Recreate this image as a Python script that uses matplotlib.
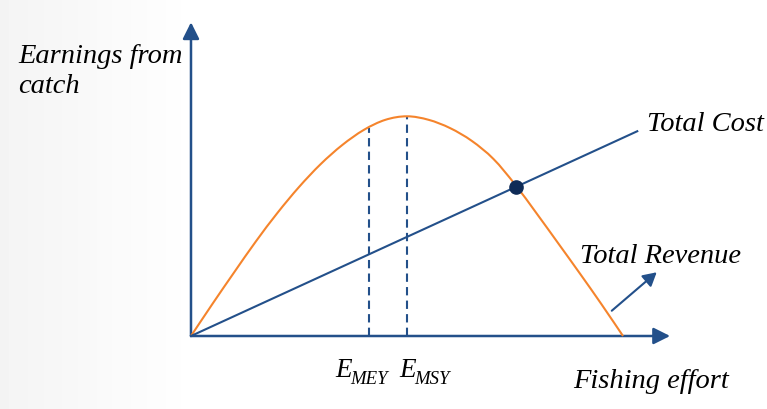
import numpy as np
import matplotlib
matplotlib.use("Agg")
import matplotlib.pyplot as plt
from matplotlib.path import Path
from matplotlib.patches import PathPatch

# Values (effort 0..10, earnings 0..100)
effort = [0, 0.5, 1.0, 1.5, 2.0, 2.5, 3.0, 3.5, 4.0, 4.5, 5.0,
          5.5, 6.0, 6.5, 7.0, 7.5, 8.0, 8.5, 9.0, 9.5, 10.0]
revenue = [0, 14.7, 29.0, 43.0, 56.0, 67.8, 78.2, 86.9, 93.8, 98.4, 100,
           98.4, 94.6, 88.8, 80.6, 69.0, 55.8, 42.2, 28.5, 14.5, 0]
cost_effort = [0, 10.33]
cost = [0, 93.2]
e_mey, r_mey = 4.11, 94.8
e_msy, r_msy = 5.0, 100
oa_effort, oa_value = 7.53, 68.0

BLUE = "#23508A"
ORANGE = "#F5842C"
DOT = "#0F2B57"


def smooth_path(xs, ys):
    # Catmull-Rom through the read points, drawn as cubic Bezier segments
    pts = np.column_stack([xs, ys])
    pts = np.vstack([pts[0], pts, pts[-1]])
    verts = [pts[1]]
    codes = [Path.MOVETO]
    for i in range(1, len(pts) - 2):
        p0, p1, p2, p3 = pts[i - 1], pts[i], pts[i + 1], pts[i + 2]
        verts += [p1 + (p2 - p0) / 6, p2 - (p3 - p1) / 6, p2]
        codes += [Path.CURVE4] * 3
    return Path(verts, codes)


fig = plt.figure(figsize=(7.67, 4.10), dpi=100)
ax = fig.add_axes([0, 0, 1, 1])
ax.set_xlim(-4.421, 13.333)
ax.set_ylim(-33.23, 153.39)
ax.axis("off")

# faint grey wash on the left side
grad = np.linspace(0.955, 1.0, 64).reshape(1, -1)
ax.imshow(grad, extent=(-4.421, 0.2, -33.23, 153.39), aspect="auto",
          cmap="gray", vmin=0, vmax=1, zorder=0)

# axes with arrow heads
arrow = dict(arrowstyle="-|>,head_length=0.5,head_width=0.25", mutation_scale=20,
             lw=1.8, color=BLUE, shrinkA=0, shrinkB=0)
ax.annotate("", xy=(0, 142.8), xytext=(0, 0), arrowprops=arrow)
ax.annotate("", xy=(11.09, 0), xytext=(0, 0), arrowprops=arrow)

# revenue and cost
ax.add_patch(PathPatch(smooth_path(effort, revenue), fill=False,
                       edgecolor=ORANGE, lw=1.5, zorder=3))
ax.plot(cost_effort, cost, color=BLUE, lw=1.5, zorder=3)

# MEY / MSY guides
ax.plot([e_mey, e_mey], [0, r_mey], color=BLUE, lw=1.5, ls=(0, (4, 2.5)), zorder=2)
ax.plot([e_msy, e_msy], [0, r_msy], color=BLUE, lw=1.5, ls=(0, (4, 2.5)), zorder=2)

# open-access equilibrium
ax.plot(oa_effort, oa_value, "o", ms=9.5, color=DOT, zorder=4)

# pointer to the revenue label
small = dict(arrowstyle="-|>,head_length=0.45,head_width=0.25", mutation_scale=18,
             lw=1.5, color=BLUE, shrinkA=0, shrinkB=0)
ax.annotate("", xy=(10.78, 29.0), xytext=(9.74, 11.5), arrowprops=small)

txt = dict(family="Liberation Serif", style="italic", fontsize=20.5,
           color="black", va="baseline", ha="left")
ax.text(-4.0, 124.7, "Earnings from", **txt)
ax.text(-4.0, 111.2, "catch", **txt)
ax.text(10.55, 93.9, "Total Cost", **txt)
ax.text(9.00, 33.5, "Total Revenue", **txt)
ax.text(8.85, -23.35, "Fishing effort", **txt)

# E with subscripts, subscript set lower like the reference
big = dict(txt, fontsize=19.5)
sub = dict(txt, fontsize=13.5)
ax.text(3.33, -18.3, "E", **big)
ax.text(3.68, -21.5, "MEY", **sub)
ax.text(4.82, -18.3, "E", **big)
ax.text(5.17, -21.5, "MSY", **sub)

fig.savefig("out.png", dpi=100)
